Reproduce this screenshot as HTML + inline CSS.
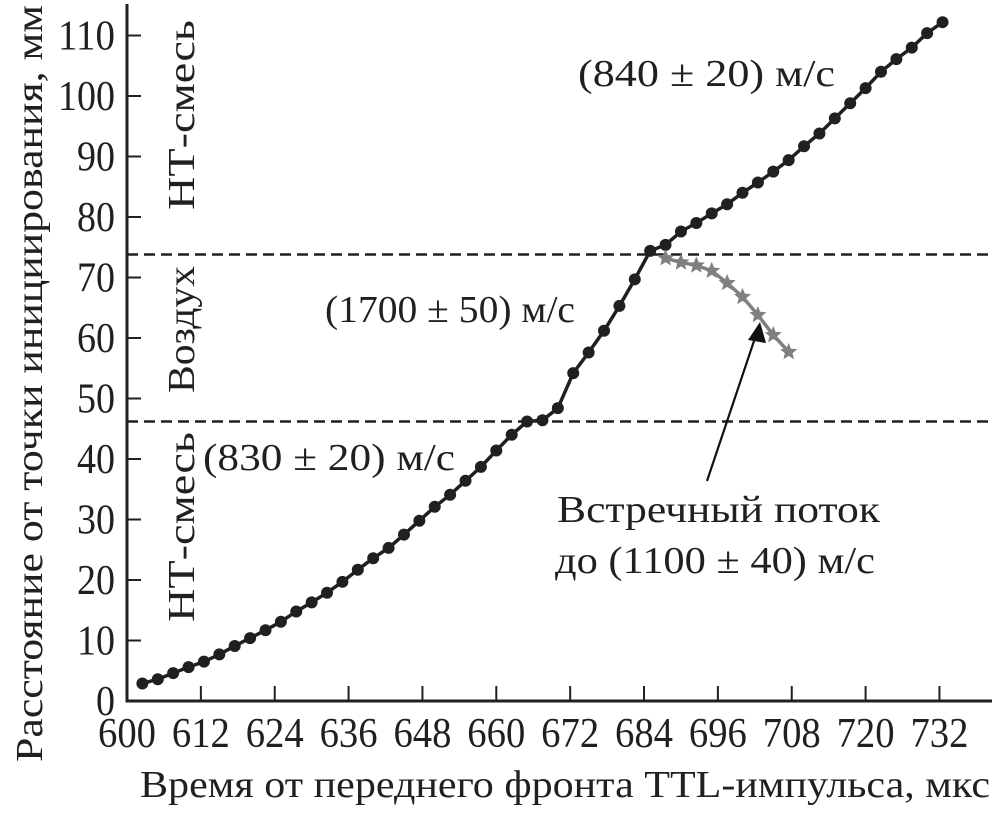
<!DOCTYPE html>
<html><head><meta charset="utf-8"><style>
html,body{margin:0;padding:0;background:#fff;}
svg{display:block;font-family:"Liberation Serif","DejaVu Serif",serif;}
</style></head><body>
<svg id="chart" width="1004" height="817" viewBox="0 0 1004 817">
<g id="axes"></g>
<g id="marks"></g>
<g fill="#231f20" font-size="38">
<text x="578" y="86" textLength="257" lengthAdjust="spacingAndGlyphs">(840 ± 20) м/с</text>
<text x="325" y="322" textLength="250" lengthAdjust="spacingAndGlyphs">(1700 ± 50) м/с</text>
<text x="203" y="470" textLength="252" lengthAdjust="spacingAndGlyphs">(830 ± 20) м/с</text>
<text x="557" y="522" textLength="323" lengthAdjust="spacingAndGlyphs">Встречный поток</text>
<text x="555" y="573" textLength="320" lengthAdjust="spacingAndGlyphs">до (1100 ± 40) м/с</text>
<text transform="translate(194,210) rotate(-90)" textLength="190" lengthAdjust="spacingAndGlyphs">НТ-смесь</text>
<text transform="translate(194,393) rotate(-90)" textLength="127" lengthAdjust="spacingAndGlyphs">Воздух</text>
<text transform="translate(194,622) rotate(-90)" textLength="190" lengthAdjust="spacingAndGlyphs">НТ-смесь</text>
<text transform="translate(42,762) rotate(-90)" textLength="757" lengthAdjust="spacingAndGlyphs">Расстояние от точки инициирования, мм</text>
<text x="140" y="797" textLength="850" lengthAdjust="spacingAndGlyphs">Время от переднего фронта TTL-импульса, мкс</text>
<line x1="707" y1="481" x2="757" y2="332" stroke="#111" stroke-width="2.2"/>
<polygon points="760,322 748,340 766,343" fill="#111"/>
</g>
</svg>
<script>
const xTicks = [600,612,624,636,648,660,672,684,696,708,720,732];
const yTicks = [0,10,20,30,40,50,60,70,80,90,100,110];
const mainT0 = 602.5, mainStep = 2.5;
const mainValues = [2.9,3.6,4.6,5.6,6.5,7.7,9.1,10.4,11.7,13.1,14.8,16.3,17.9,19.7,21.7,23.6,25.3,27.5,29.8,32.1,34.1,36.4,38.7,41.4,44.0,46.2,46.4,48.4,54.2,57.6,61.2,65.3,69.7,74.4,75.4,77.6,79.0,80.6,82.1,84.0,85.7,87.5,89.4,91.7,93.8,96.3,98.8,101.3,104.0,106.1,108.0,110.4,112.2];
const starT0 = 687.5;
const starValues = [73.2,72.5,72.0,71.1,69.1,66.8,63.8,60.5,57.7];
const boundaries = [73.8,46.2];

const NS = "http://www.w3.org/2000/svg";
const X0 = 127, XS = 6.155, Y0 = 701, YS = 6.05;
const xs = t => X0 + (t - 600) * XS;
const ys = v => Y0 - v * YS;
function mk(tag, attrs, parent){ const e = document.createElementNS(NS, tag); for (const k in attrs) e.setAttribute(k, attrs[k]); parent.appendChild(e); return e; }
const axes = document.getElementById('axes'), marks = document.getElementById('marks');

let a = mk('line',{x1:X0,y1:Y0,x2:992,y2:Y0,stroke:'#231f20','stroke-width':3},axes);


a = mk('line',{x1:X0,y1:Y0+1.5,x2:X0,y2:4,stroke:'#231f20','stroke-width':3},axes);



xTicks.forEach(t=>{
  const x = xs(t);
  if (t !== 600) {
    const l = mk('line',{x1:x,y1:Y0,x2:x,y2:Y0-15,stroke:'#231f20','stroke-width':2},axes);
    
    
  }
  const tx = mk('text',{x:x,y:747,'text-anchor':'middle','font-size':42,fill:'#231f20',textLength:58,lengthAdjust:'spacingAndGlyphs'},axes);
  tx.textContent = t;
  
  
});
yTicks.forEach(v=>{
  const y = ys(v);
  if (v !== 0) {
    const l = mk('line',{x1:X0,y1:y,x2:X0+14,y2:y,stroke:'#231f20','stroke-width':2},axes);
    
    
  }
  const s = String(v);
  const tx = mk('text',{x:115,y:y+14,'text-anchor':'end','font-size':42,fill:'#231f20',textLength:s.length*19,lengthAdjust:'spacingAndGlyphs'},axes);
  tx.textContent = s;
  
  
});

boundaries.forEach(v=>{
  const l = mk('line',{x1:X0,y1:ys(v),x2:992,y2:ys(v),stroke:'#231f20','stroke-width':2.5,'stroke-dasharray':'11,6'},marks);
  
  
});

const mainPts = mainValues.map((v,i)=>[xs(mainT0+i*mainStep), ys(v)]);
let p = mk('polyline',{points:mainPts.map(q=>q.join(',')).join(' '),fill:'none',stroke:'#231f20','stroke-width':3.5},marks);


mainPts.forEach(q=>{
  const c = mk('circle',{cx:q[0],cy:q[1],r:6,fill:'#231f20'},marks);
  
  
});

const starPts = starValues.map((v,i)=>[xs(starT0+i*mainStep), ys(v)]);
p = mk('polyline',{points:starPts.map(q=>q.join(',')).join(' '),fill:'none',stroke:'#808080','stroke-width':3.5},marks);


function starPath(cx,cy,R,r){let d='';for(let i=0;i<10;i++){const ang=-Math.PI/2+i*Math.PI/5;const rad=i%2?r:R;d+=(i?'L':'M')+(cx+rad*Math.cos(ang)).toFixed(1)+','+(cy+rad*Math.sin(ang)).toFixed(1);}return d+'Z';}
starPts.forEach(q=>{
  const s = mk('path',{d:starPath(q[0],q[1],9,4),fill:'#808080'},marks);
  
  
});
</script>
</body></html>
